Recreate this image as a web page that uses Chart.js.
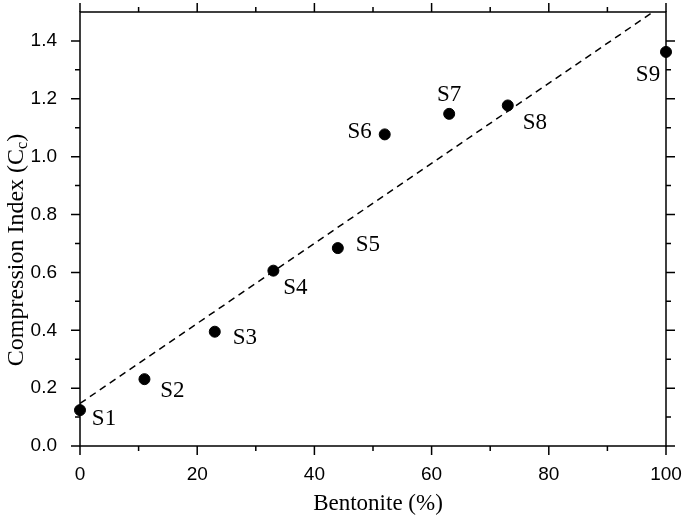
<!DOCTYPE html>
<html>
<head>
<meta charset="utf-8">
<script src="https://cdn.jsdelivr.net/npm/chart.js@4"></script>
<style>
html,body{margin:0;padding:0;background:#fff;overflow:hidden;}
#wrap{width:685px;height:519px;position:relative;overflow:hidden;}
canvas{display:block;}
</style>
</head>
<body>
<div id="wrap"><canvas id="c" width="685" height="519"></canvas></div>
<script>
// ---- data ----
const sampleNames = ["S1","S2","S3","S4","S5","S6","S7","S8","S9"];
const bentonite = [0, 11, 23, 33, 44, 52, 63, 73, 100];
const compressionIndex = [0.124, 0.231, 0.395, 0.606, 0.684, 1.077, 1.148, 1.177, 1.362];
const fitX = [0, 97.8];
const fitY = [0.147, 1.5];
const xTickValues = [0, 20, 40, 60, 80, 100];
const yTickValues = [0, 0.2, 0.4, 0.6, 0.8, 1.0, 1.2, 1.4];
const xTitle = "Bentonite (%)";
const yTitleMain = "Compression Index (C";
const yTitleSub = "c";
const yTitleEnd = ")";

// ---- label placement (style) ----
const labelOffsets = [[24,9],[28,12],[30,6],[22,17],[30,-3],[-25,-2],[0,-19],[27,17],[-18,23]];

const serif = "'Liberation Serif','Times New Roman',serif";
const sans = "'Liberation Sans',Arial,sans-serif";

function zeroPad(s) { s.paddingLeft = 0; s.paddingRight = 0; s.paddingTop = 0; s.paddingBottom = 0; }

const framePlugin = {
  id: 'frame',
  afterDatasetsDraw(chart) {
    const ctx = chart.ctx, a = chart.chartArea;
    const xs = chart.scales.x, ys = chart.scales.y;
    ctx.save();
    ctx.strokeStyle = '#000';
    ctx.lineWidth = 1.5;
    ctx.beginPath();
    ctx.rect(a.left, a.top, a.right - a.left, a.bottom - a.top);
    ctx.stroke();
    const major = 9, minor = 5;
    ctx.beginPath();
    for (let v = 0; v <= 100; v += 10) {
      const px = xs.getPixelForValue(v);
      const len = (v % 20 === 0) ? major : minor;
      ctx.moveTo(px, a.bottom); ctx.lineTo(px, a.bottom + len);
      ctx.moveTo(px, a.top); ctx.lineTo(px, a.top - len);
    }
    for (let i = 0; i <= 14; i++) {
      const v = i / 10;
      const py = ys.getPixelForValue(v);
      const len = (i % 2 === 0) ? major : minor;
      ctx.moveTo(a.left, py); ctx.lineTo(a.left - len, py);
      ctx.moveTo(a.right, py); ctx.lineTo(a.right + len, py);
    }
    ctx.stroke();

    // sample labels
    ctx.fillStyle = '#000';
    ctx.font = "23px " + serif;
    ctx.textAlign = 'center';
    ctx.textBaseline = 'middle';
    sampleNames.forEach((n, i) => {
      const px = xs.getPixelForValue(bentonite[i]) + labelOffsets[i][0];
      const py = ys.getPixelForValue(compressionIndex[i]) + labelOffsets[i][1];
      ctx.fillText(n, px, py);
    });

    // x title
    ctx.font = "23px " + serif;
    ctx.fillText(xTitle, 378, 504);

    // y title with subscript
    ctx.translate(17, 250);
    ctx.rotate(-Math.PI / 2);
    ctx.font = "24px " + serif;
    const w1 = ctx.measureText(yTitleMain).width;
    ctx.font = "16px " + serif;
    const w2 = ctx.measureText(yTitleSub).width;
    ctx.font = "24px " + serif;
    const w3 = ctx.measureText(yTitleEnd).width;
    let x0 = -(w1 + w2 + w3) / 2;
    ctx.textAlign = 'left';
    ctx.fillText(yTitleMain, x0, 0);
    ctx.font = "16px " + serif;
    ctx.fillText(yTitleSub, x0 + w1, 6);
    ctx.font = "24px " + serif;
    ctx.fillText(yTitleEnd, x0 + w1 + w2, 0);
    ctx.restore();
  }
};

new Chart(document.getElementById('c'), {
  type: 'scatter',
  data: {
    datasets: [
      {
        label: 'Fit',
        type: 'line',
        data: fitX.map((x, i) => ({x: x, y: fitY[i]})),
        borderColor: '#000',
        borderWidth: 1.5,
        borderDash: [7, 5],
        pointRadius: 0,
        fill: false,
        showLine: true
      },
      {
        label: 'Samples',
        data: bentonite.map((x, i) => ({x: x, y: compressionIndex[i]})),
        backgroundColor: '#000',
        borderColor: '#000',
        pointRadius: 5.5,
        pointHoverRadius: 5.5,
        clip: false
      }
    ]
  },
  options: {
    responsive: false,
    animation: false,
    events: [],
    layout: {padding: {top: 12, right: 19, left: 0, bottom: 0}},
    plugins: {legend: {display: false}, tooltip: {enabled: false}},
    scales: {
      x: {
        type: 'linear', min: 0, max: 100,
        afterFit(s) { s.height = 73; zeroPad(s); },
        afterBuildTicks(s) { s.ticks = xTickValues.map(v => ({value: v})); },
        grid: {display: false},
        border: {display: false},
        ticks: {
          padding: 9, color: '#000', maxRotation: 0,
          font: {family: sans, size: 19},
          callback: v => String(v)
        }
      },
      y: {
        type: 'linear', min: 0, max: 1.5,
        afterFit(s) { s.width = 80; zeroPad(s); },
        afterBuildTicks(s) { s.ticks = yTickValues.map(v => ({value: v})); },
        grid: {display: false},
        border: {display: false},
        ticks: {
          padding: 15, color: '#000',
          font: {family: sans, size: 19},
          callback: v => Number(v).toFixed(1)
        }
      }
    }
  },
  plugins: [framePlugin]
});
</script>
</body>
</html>
